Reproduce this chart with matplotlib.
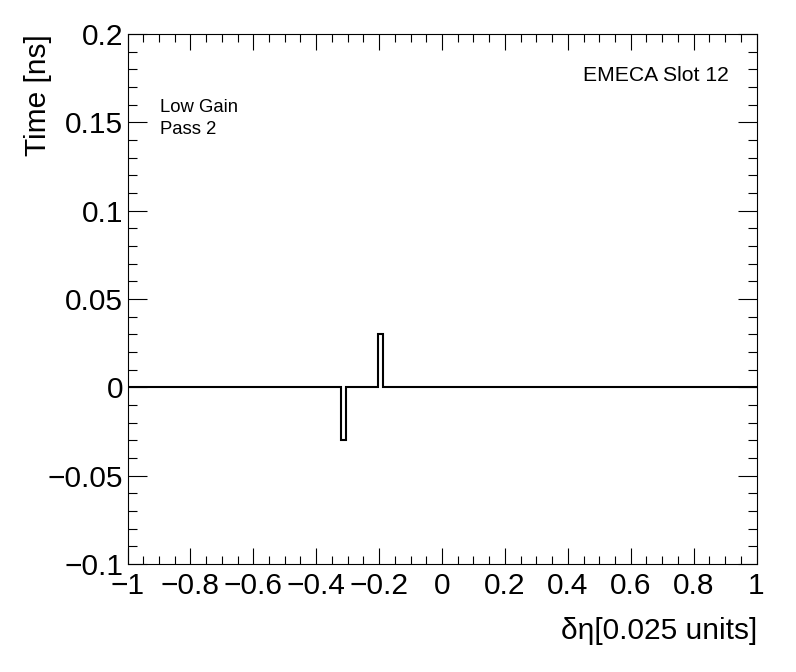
import matplotlib
matplotlib.use("Agg")
import matplotlib.pyplot as plt
from matplotlib.ticker import MultipleLocator, FixedLocator

# histogram: bin edges and content (time offset per delta-eta bin)
bin_edges = [-1.0, -0.3211, -0.3043, -0.2045, -0.1866, 1.0]
bin_values = [0.0, -0.03, 0.0, 0.03, 0.0]

x_ticks = [-1, -0.8, -0.6, -0.4, -0.2, 0, 0.2, 0.4, 0.6, 0.8, 1]
x_ticklabels = ["\u22121", "\u22120.8", "\u22120.6", "\u22120.4", "\u22120.2", "0",
                "0.2", "0.4", "0.6", "0.8", "1"]
y_ticks = [-0.1, -0.05, 0, 0.05, 0.1, 0.15, 0.2]
y_ticklabels = ["\u22120.1", "\u22120.05", "0", "0.05", "0.1", "0.15", "0.2"]

plt.rcParams['font.family'] = ['Liberation Sans', 'DejaVu Sans']

W, H = 796, 672
fig = plt.figure(figsize=(W / 100, H / 100), dpi=100)
ax = fig.add_axes([127.5 / W, 1 - 564 / H, 629 / W, 530 / H])

ax.stairs(bin_values, bin_edges, color="black", linewidth=1.5)

ax.set_xlim(-1, 1)
ax.set_ylim(-0.1, 0.2)

ax.xaxis.set_major_locator(FixedLocator(x_ticks))
ax.set_xticklabels(x_ticklabels)
ax.xaxis.set_minor_locator(MultipleLocator(0.05))
ax.yaxis.set_major_locator(FixedLocator(y_ticks))
ax.set_yticklabels(y_ticklabels)
ax.yaxis.set_minor_locator(MultipleLocator(0.01))

for s in ax.spines.values():
    s.set_linewidth(0.8)

ax.tick_params(which="both", direction="in", top=True, right=True, width=0.8,
               labelsize=21.5)
ax.tick_params(axis="x", which="major", length=11.5, pad=6)
ax.tick_params(axis="x", which="minor", length=5.75)
ax.tick_params(axis="y", which="major", length=13.6, pad=3)
ax.tick_params(axis="y", which="minor", length=6.8)

# axis titles, ROOT style (aligned to the axis end)
fig.text(757 / W, 1 - 639 / H, "\u03b4\u03b7[0.025 units]", fontsize=21.5,
         ha="right", va="baseline")
fig.text(46 / W, 1 - 34 / H, "Time [ns]", fontsize=21.5, rotation=90,
         rotation_mode="anchor", ha="right", va="baseline")

fig.text(729 / W, 1 - 81 / H, "EMECA Slot 12", fontsize=15.2, ha="right", va="baseline")
fig.text(160 / W, 1 - 112 / H, "Low Gain", fontsize=13.3, ha="left", va="baseline")
fig.text(160 / W, 1 - 134 / H, "Pass 2", fontsize=13.3, ha="left", va="baseline")

fig.savefig("out.png", dpi=100)
